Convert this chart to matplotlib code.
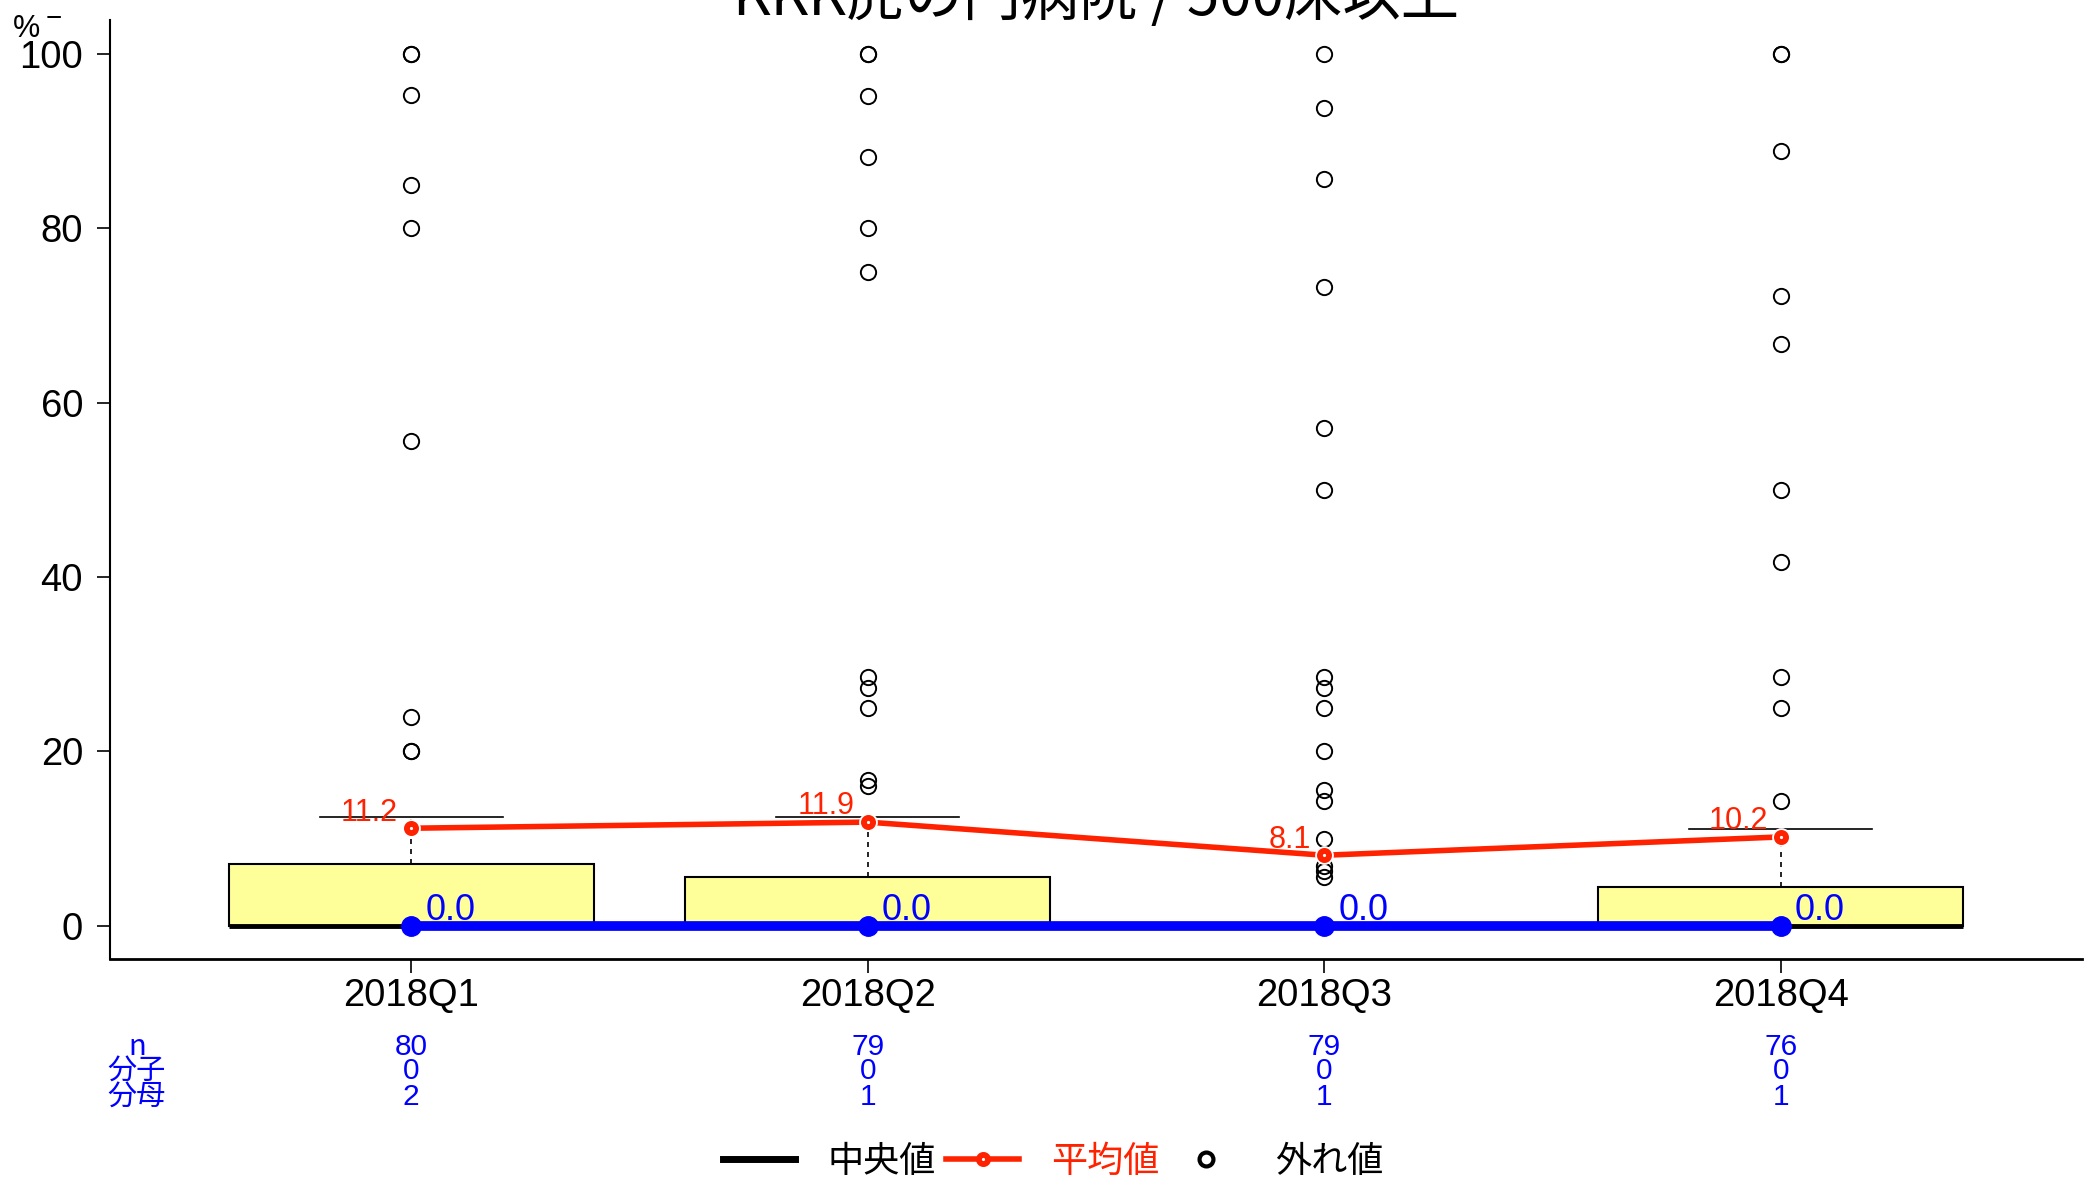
import matplotlib
matplotlib.use('Agg')
import matplotlib.pyplot as plt
import matplotlib.transforms as mtransforms
from matplotlib.lines import Line2D
import numpy as np

plt.rcParams['font.family'] = ['Liberation Sans', 'Noto Sans CJK JP', 'DejaVu Sans']
CJK = ['Noto Sans CJK JP', 'DejaVu Sans']

title = 'KKK虎の門病院 / 500床以上'
quarters = ['2018Q1', '2018Q2', '2018Q3', '2018Q4']
box_top = [7.1, 5.6, 0.0, 4.5]
whisker_top = [12.5, 12.5, 0.0, 11.1]
medians = [0.0, 0.0, 0.0, 0.0]
means = [11.2, 11.9, 8.1, 10.2]
outliers = [
    [100, 100, 95.3, 85.0, 80.0, 55.6, 24.0, 20.0, 20.0],
    [100, 100, 95.2, 88.2, 80.0, 75.0, 28.6, 27.3, 25.0, 16.7, 16.0],
    [100, 93.8, 85.7, 73.3, 57.1, 50.0, 28.6, 27.3, 25.0, 20.0, 15.6, 14.3,
     10.0, 6.9, 6.3, 5.6],
    [100, 100, 88.9, 72.2, 66.7, 50.0, 41.7, 28.6, 25.0, 14.3],
]
n_counts = [80, 79, 79, 76]
numerators = [0, 0, 0, 0]
denominators = [2, 1, 1, 1]
row_names = ['n', '分子', '分母']

RED = '#FF2200'
BLUE = '#0000FF'

fig = plt.figure(figsize=(20.89, 11.80), dpi=100)
W, H = 2089.0, 1180.0
ax = fig.add_axes([110 / W, 1 - 959 / H, (2082 - 110) / W, (959 - 20) / H])

x = np.arange(1, len(quarters) + 1)

stats = []
for i in range(len(quarters)):
    stats.append(dict(med=medians[i], q1=0.0, q3=box_top[i], whislo=0.0,
                      whishi=whisker_top[i], fliers=outliers[i]))

ax.bxp(stats, positions=x, widths=0.8, capwidths=0.4, patch_artist=True,
       boxprops=dict(facecolor='#FFFF99', edgecolor='black', linewidth=1.5),
       medianprops=dict(color='black', linewidth=3.5),
       whiskerprops=dict(color='black', linestyle=(0, (3, 3)), linewidth=1.2),
       capprops=dict(color='black', linewidth=1.2),
       flierprops=dict(marker='o', markerfacecolor='none', markeredgecolor='black',
                       markersize=11, markeredgewidth=1.4))

# median line (blue) and mean line (red), R type="b" style gaps around points
ax.plot(x, medians, color=BLUE, lw=7, marker='o', ms=14, zorder=5)
ax.plot(x, means, color=RED, lw=4, zorder=6)
ax.plot(x, means, ls='none', marker='o', ms=11.5, mfc='white', mec='white',
        mew=2, zorder=6.5)
ax.plot(x, means, ls='none', marker='o', ms=6.6, mfc='white', mec=RED,
        mew=4.2, zorder=7)

for xi, m in zip(x, medians):
    ax.annotate('%.1f' % m, (xi, m), xytext=(10, 4), textcoords='offset points',
                ha='left', va='baseline', color=BLUE, fontsize=26, zorder=8)
for xi, m in zip(x, means):
    ax.annotate('%.1f' % m, (xi, m), xytext=(-9.5, 5.5), textcoords='offset points',
                ha='right', va='baseline', color=RED, fontsize=22, zorder=8)

ax.set_xlim(0.34, 4.66)
ax.set_ylim(-3.8, 103.9)
ax.set_xticks(x, quarters)
ax.set_yticks(np.arange(0, 101, 20))
ax.tick_params(axis='x', labelsize=27.5, length=10, width=1.2, pad=3.6)
ax.tick_params(axis='y', labelsize=27.5, length=9.4, width=1.2, pad=10)
for s in ['top', 'right']:
    ax.spines[s].set_visible(False)
ax.spines['left'].set_linewidth(1.5)
ax.spines['bottom'].set_linewidth(2.0)

# title (partly cut at the top as in the reference)
fig.text(1096 / W, 1 - 15 / H, title, ha='center', va='baseline', fontsize=42,
         family=CJK)

# y unit
fig.text(13 / W, 1 - 37 / H, '%', ha='left', va='baseline', fontsize=22)
fig.text(54 / W, 1 - 19 / H, '\u2212', ha='center', va='center', fontsize=20)

# table under the axis
trans = mtransforms.blended_transform_factory(ax.transData, fig.transFigure)
row_y = [1047, 1071, 1097]
rows = [n_counts, numerators, denominators]
for name, yy, vals in zip(row_names, row_y, rows):
    fig.text(137 / W, 1 - yy / H, name, ha='center', va='center', color=BLUE,
             fontsize=21, family=CJK)
    for xi, v in zip(x, vals):
        ax.text(xi, 1 - yy / H, str(v), transform=trans, ha='center', va='center',
                color=BLUE, fontsize=21.5, clip_on=False)

# legend
handles = [
    Line2D([], [], color='black', lw=5),
    Line2D([], [], color=RED, lw=4, marker='o', ms=6.6, mfc='white', mec=RED, mew=4.2),
    Line2D([], [], color='none', marker='o', ms=10, mfc='white', mec='black', mew=3),
]
fig.legend(handles, ['中央値', '平均値', '外れ値'], loc='center',
           bbox_to_anchor=(1053 / W, 1 - 1162 / H), ncol=3, frameon=False,
           prop={'family': CJK, 'size': 26}, handlelength=2.0, handletextpad=0.9,
           columnspacing=0.3, labelcolor=['black', RED, 'black'])

fig.savefig('out.png', dpi=100)
